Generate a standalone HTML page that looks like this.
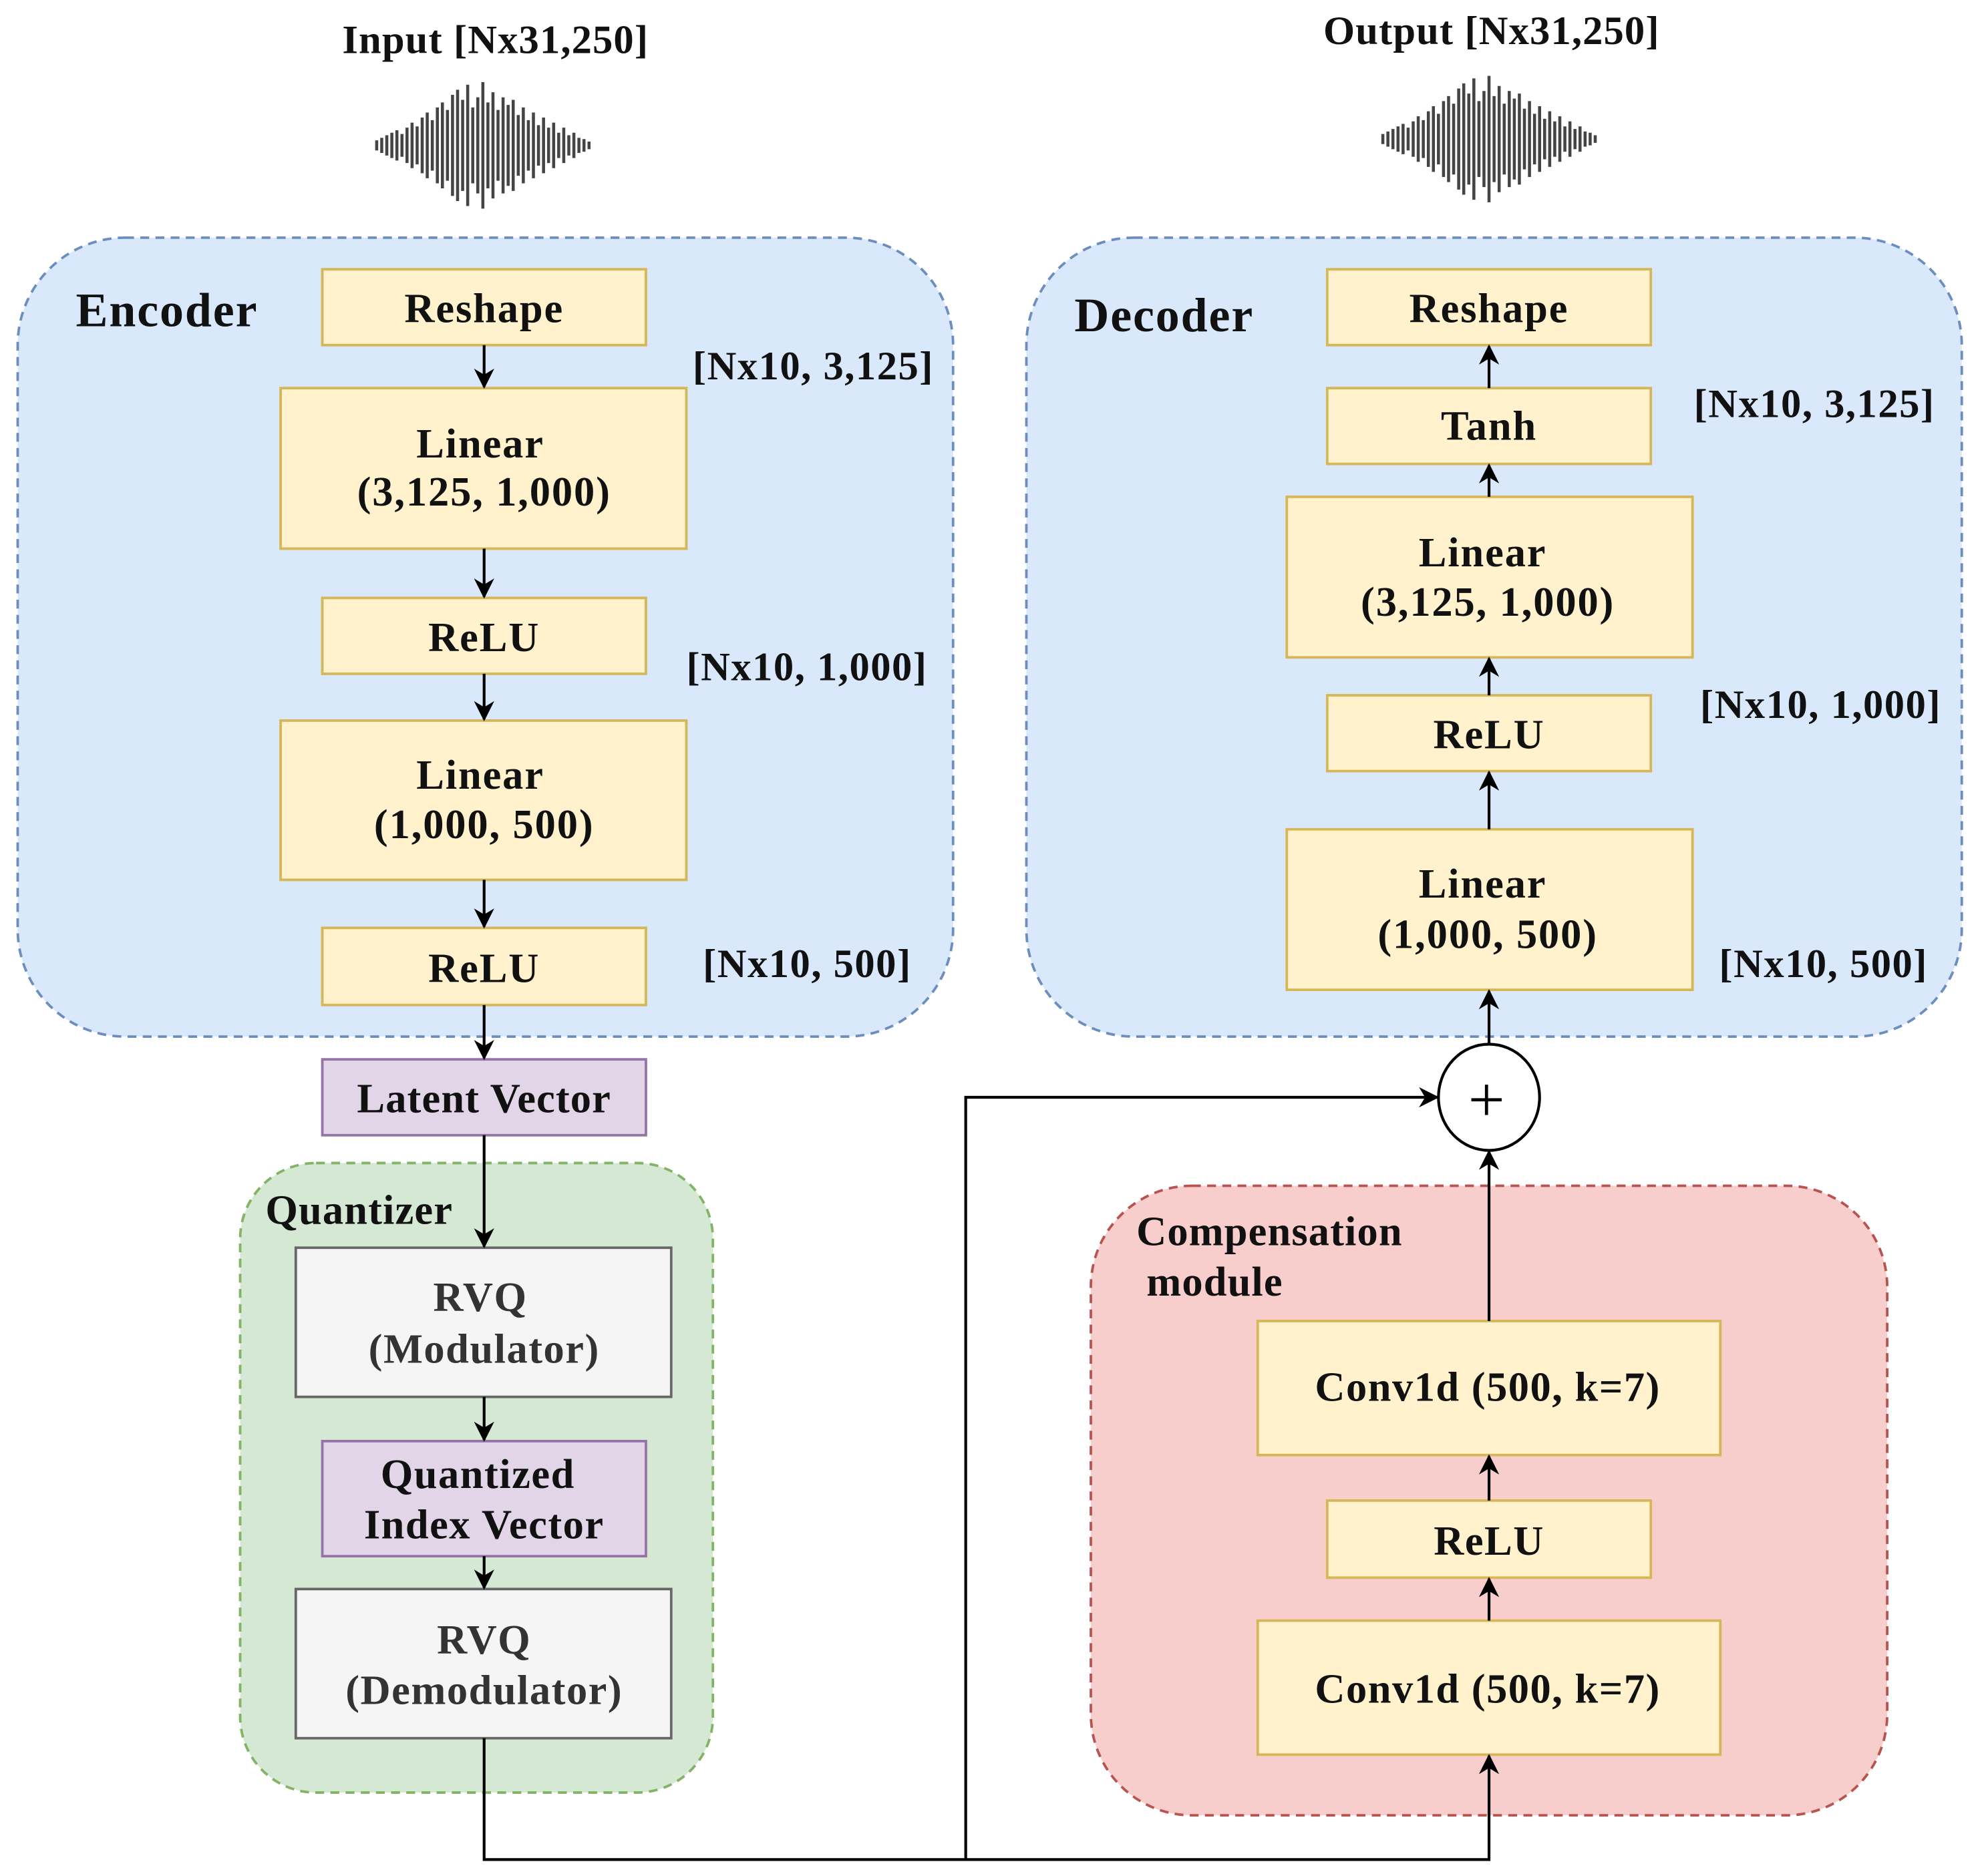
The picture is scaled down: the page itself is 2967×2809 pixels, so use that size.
<!DOCTYPE html>
<html><head><meta charset="utf-8"><style>
html,body{margin:0;padding:0;background:#fff;}
svg{display:block}
text{font-family:"Liberation Serif",serif;font-weight:bold;fill:#111;}
</style></head><body>
<svg width="2967" height="2809" viewBox="0 0 1568 1484" preserveAspectRatio="none" xmlns="http://www.w3.org/2000/svg">
<defs>
<marker id="ar" viewBox="0 0 10 10" refX="9" refY="5" markerWidth="16" markerHeight="16" markerUnits="userSpaceOnUse" orient="auto">
<path d="M0,0 L10,5 L0,10 L3,5 Z" fill="#000"/>
</marker>
<g id="wave" stroke="#444" stroke-width="2.4" fill="none">
<path d="M-84,-4V4M-80,-6V6M-76,-8V8M-72,-10V10M-68,-12V12M-64,-9V9M-60,-14V14M-56,-18V18M-52,-15V15M-48,-22V22M-44,-26V26M-40,-20V20M-36,-30V30M-32,-34V34M-28,-28V28M-24,-40V40M-20,-44V44M-16,-36V36M-12,-48V48M-8,-30V30M-4,-38V38M0,-50V50M4,-34V34M8,-42V42M12,-28V28M16,-38V38M20,-32V32M24,-36V36M28,-24V24M32,-30V30M36,-20V20M40,-26V26M44,-16V16M48,-22V22M52,-14V14M56,-18V18M60,-10V10M64,-14V14M68,-8V8M72,-10V10M76,-6V6M80,-5V5M84,-3V3"/>
</g>
</defs>

<text x="392" y="42" font-size="32" letter-spacing="0.6" text-anchor="middle">Input [Nx31,250]</text>
<use href="#wave" x="382" y="115"/>
<text x="1180" y="35" font-size="32" letter-spacing="0.6" text-anchor="middle">Output [Nx31,250]</text>
<use href="#wave" x="1178" y="110"/>

<!-- Encoder -->
<rect x="14" y="188" width="740" height="632" rx="85" fill="#dae8fc" stroke="#6c8ebf" stroke-width="2" stroke-dasharray="7,5"/>
<text x="60" y="258" font-size="38" letter-spacing="1">Encoder</text>
<g fill="#fff2cc" stroke="#d6b656" stroke-width="2">
<rect x="255" y="213" width="256" height="60"/>
<rect x="222" y="307" width="321" height="127"/>
<rect x="255" y="473" width="256" height="60"/>
<rect x="222" y="570" width="321" height="126"/>
<rect x="255" y="734" width="256" height="61"/>
</g>
<g font-size="33" letter-spacing="1" text-anchor="middle">
<text x="383" y="255">Reshape</text>
<text x="380" y="362">Linear</text>
<text x="383" y="400">(3,125, 1,000)</text>
<text x="383" y="515">ReLU</text>
<text x="380" y="624">Linear</text>
<text x="383" y="663">(1,000, 500)</text>
<text x="383" y="777">ReLU</text>
</g>
<g font-size="32" letter-spacing="0.8">
<text x="548" y="300">[Nx10, 3,125]</text>
<text x="543" y="538">[Nx10, 1,000]</text>
<text x="556" y="773">[Nx10, 500]</text>
</g>

<!-- Latent -->
<rect x="255" y="838" width="256" height="60" fill="#e1d5e7" stroke="#9673a6" stroke-width="2"/>
<text x="383" y="880" font-size="33" letter-spacing="0.6" text-anchor="middle">Latent Vector</text>

<!-- Quantizer -->
<rect x="190" y="920" width="374" height="498" rx="60" fill="#d5e8d4" stroke="#82b366" stroke-width="2" stroke-dasharray="7,5"/>
<text x="210" y="968" font-size="33" letter-spacing="0.6">Quantizer</text>
<rect x="234" y="987" width="297" height="118" fill="#f5f5f5" stroke="#666" stroke-width="2"/>
<rect x="255" y="1140" width="256" height="91" fill="#e1d5e7" stroke="#9673a6" stroke-width="2"/>
<rect x="234" y="1257" width="297" height="118" fill="#f5f5f5" stroke="#666" stroke-width="2"/>
<g font-size="33" letter-spacing="0.8" text-anchor="middle">
<text x="380" y="1037" style="fill:#333">RVQ</text>
<text x="383" y="1078" style="fill:#333">(Modulator)</text>
<text x="378" y="1177">Quantized</text>
<text x="383" y="1217">Index Vector</text>
<text x="383" y="1308" style="fill:#333">RVQ</text>
<text x="383" y="1348" style="fill:#333">(Demodulator)</text>
</g>

<!-- Decoder -->
<rect x="812" y="188" width="740" height="632" rx="85" fill="#dae8fc" stroke="#6c8ebf" stroke-width="2" stroke-dasharray="7,5"/>
<text x="850" y="262" font-size="38" letter-spacing="1">Decoder</text>
<g fill="#fff2cc" stroke="#d6b656" stroke-width="2">
<rect x="1050" y="213" width="256" height="60"/>
<rect x="1050" y="307" width="256" height="60"/>
<rect x="1018" y="393" width="321" height="127"/>
<rect x="1050" y="550" width="256" height="60"/>
<rect x="1018" y="656" width="321" height="127"/>
</g>
<g font-size="33" letter-spacing="1" text-anchor="middle">
<text x="1178" y="255">Reshape</text>
<text x="1178" y="348">Tanh</text>
<text x="1173" y="448">Linear</text>
<text x="1177" y="487">(3,125, 1,000)</text>
<text x="1178" y="592">ReLU</text>
<text x="1173" y="710">Linear</text>
<text x="1177" y="750">(1,000, 500)</text>
</g>
<g font-size="32" letter-spacing="0.8">
<text x="1340" y="330">[Nx10, 3,125]</text>
<text x="1345" y="568">[Nx10, 1,000]</text>
<text x="1360" y="773">[Nx10, 500]</text>
</g>

<!-- Compensation -->
<rect x="863" y="938" width="630" height="498" rx="80" fill="#f8cecc" stroke="#b85450" stroke-width="2" stroke-dasharray="7,5"/>
<text x="899" y="985" font-size="33" letter-spacing="0.6">Compensation</text>
<text x="907" y="1025" font-size="33" letter-spacing="0.6">module</text>
<g fill="#fff2cc" stroke="#d6b656" stroke-width="2">
<rect x="995" y="1045" width="366" height="106"/>
<rect x="1050" y="1187" width="256" height="61"/>
<rect x="995" y="1282" width="366" height="106"/>
</g>
<g font-size="33" letter-spacing="0.8" text-anchor="middle">
<text x="1177" y="1108">Conv1d (500, k=7)</text>
<text x="1178" y="1230">ReLU</text>
<text x="1177" y="1347">Conv1d (500, k=7)</text>
</g>

<!-- circle -->
<ellipse cx="1178" cy="868" rx="40" ry="42" fill="#fff" stroke="#000" stroke-width="2.2"/>
<path d="M1164,870H1188M1176,858V882" stroke="#000" stroke-width="2.5"/>

<!-- arrows -->
<g stroke="#000" stroke-width="2.2" marker-end="url(#ar)" fill="none">
<path d="M383,273V306"/>
<path d="M383,434V472"/>
<path d="M383,533V569"/>
<path d="M383,696V733"/>
<path d="M383,795V837"/>
<path d="M383,898V986"/>
<path d="M383,1105V1139"/>
<path d="M383,1231V1256"/>
<path d="M383,1375V1471H1178V1389"/>
<path d="M764,1471V868H1137"/>
<path d="M1178,307V274"/>
<path d="M1178,393V368"/>
<path d="M1178,550V521"/>
<path d="M1178,656V611"/>
<path d="M1178,826V784"/>
<path d="M1178,1045V911"/>
<path d="M1178,1187V1152"/>
<path d="M1178,1282V1249"/>
</g>
</svg>
</body></html>
